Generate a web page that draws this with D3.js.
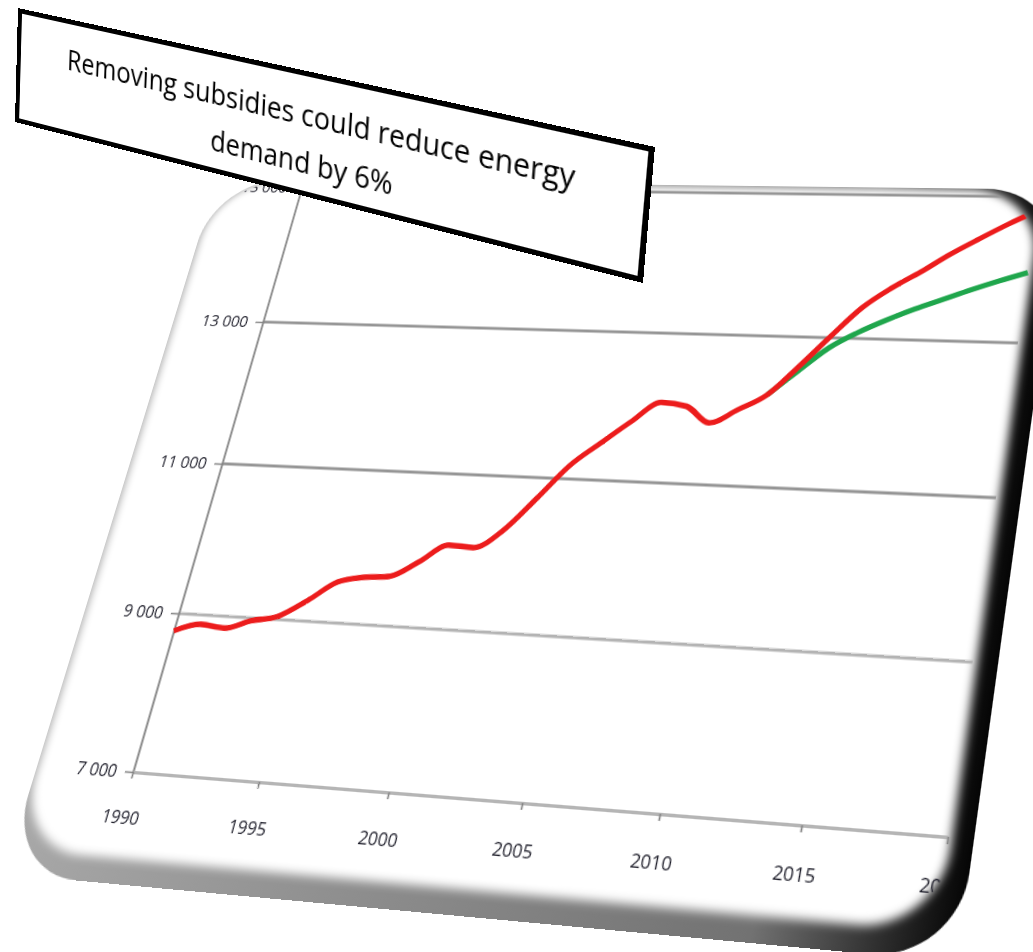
<!DOCTYPE html>
<html lang="en">
<head>
<meta charset="UTF-8">
<title>Removing subsidies could reduce energy demand</title>
<script src="https://cdn.jsdelivr.net/npm/d3@7"></script>
<style>
  body { margin: 0; padding: 0; background: #fff; width: 1033px; height: 952px; overflow: hidden; position: relative; }
  svg { position: absolute; left: 0; top: 0; transform-origin: 0 0; overflow: visible; }
</style>
</head>
<body>
<script>
// data (Mtoe)
const years = [1990, 1991, 1992, 1993, 1994, 1995, 1996, 1997, 1998, 1999, 2000,
  2001, 2002, 2003, 2004, 2005, 2006, 2007, 2008, 2009, 2010,
  2011, 2012, 2013, 2014, 2015, 2016, 2017, 2018, 2019, 2020];
const demandWithSubsidies = [8775, 8880, 8850, 8965, 9040, 9260, 9520, 9600, 9630, 9835, 10070,
  10055, 10300, 10730, 11180, 11490, 11790, 12060, 12020, 11810, 12000,
  12210, 12600, 13020, 13420, 13700, 13930, 14180, 14400, 14610, 14800];
const phaseOutYears = [2011, 2012, 2013, 2014, 2015, 2016, 2017, 2018, 2019, 2020];
const demandNoSubsidies = [12210, 12540, 12860, 13080, 13260, 13420, 13560, 13700, 13830, 13950];
const yTicks = [7000, 9000, 11000, 13000, 15000];
const xTicks = [1990, 1995, 2000, 2005, 2010, 2015, 2020];
const noteLines = ["Removing subsidies could reduce energy", "demand by 6%"];

// flat chart, later bent into the tilted picture
const W = 1000, H = 900;
const m = { left: 130, top: 60 };
const pw = 750, ph = 600;

const x = d3.scaleLinear().domain([1990, 2020]).range([0, pw]);
const y = d3.scaleLinear().domain([7000, 15000]).range([ph, 0]);

function homography(src, dst) {
  const A = [], b = [];
  for (let i = 0; i < 4; i++) {
    const [sx, sy] = src[i], [dx, dy] = dst[i];
    A.push([sx, sy, 1, 0, 0, 0, -sx * dx, -sy * dx]); b.push(dx);
    A.push([0, 0, 0, sx, sy, 1, -sx * dy, -sy * dy]); b.push(dy);
  }
  for (let c = 0; c < 8; c++) {
    let p = c;
    for (let r = c + 1; r < 8; r++) if (Math.abs(A[r][c]) > Math.abs(A[p][c])) p = r;
    [A[c], A[p]] = [A[p], A[c]]; [b[c], b[p]] = [b[p], b[c]];
    for (let r = 0; r < 8; r++) {
      if (r === c) continue;
      const f = A[r][c] / A[c][c];
      for (let k = c; k < 8; k++) A[r][k] -= f * A[c][k];
      b[r] -= f * b[c];
    }
  }
  return b.map((v, i) => v / A[i][i]);
}

function toMatrix3d(h) {
  return `matrix3d(${[h[0], h[3], 0, h[6], h[1], h[4], 0, h[7], 0, 0, 1, 0, h[2], h[5], 0, 1].join(",")})`;
}

// where the plot corners (7000 and 13000 lines) sit on the page
const chartSrc = [
  [m.left + x(1990), m.top + y(7000)],
  [m.left + x(2020), m.top + y(7000)],
  [m.left + x(2020), m.top + y(13000)],
  [m.left + x(1990), m.top + y(13000)]
];
const chartDst = [[133, 772], [948, 837], [1018, 343], [263, 322]];

const svg = d3.select("body").append("svg")
  .attr("width", W)
  .attr("height", H)
  .style("transform", toMatrix3d(homography(chartSrc, chartDst)));

const defs = svg.append("defs");
const rim = defs.append("linearGradient").attr("id", "rim")
  .attr("x1", 0).attr("y1", 0).attr("x2", 1).attr("y2", 0);
rim.append("stop").attr("offset", 0).attr("stop-color", "#a8a8a8");
rim.append("stop").attr("offset", 0.8).attr("stop-color", "#727272");
rim.append("stop").attr("offset", 1).attr("stop-color", "#050505");
defs.append("filter").attr("id", "soft")
  .attr("x", -0.1).attr("y", -0.1).attr("width", 1.2).attr("height", 1.2)
  .append("feGaussianBlur").attr("stdDeviation", 4.5);

// picture card
const card = { x0: -97, y0: -8, x1: pw + 22, y1: ph + 100, r: 72 };
const g = svg.append("g").attr("transform", `translate(${m.left},${m.top})`);

g.append("rect")
  .attr("x", card.x0).attr("y", card.y0)
  .attr("width", card.x1 - card.x0).attr("height", card.y1 - card.y0)
  .attr("rx", card.r)
  .attr("fill", "url(#rim)");
g.append("rect")
  .attr("x", card.x0 + 1.5).attr("y", card.y0 + 1.5)
  .attr("width", card.x1 - card.x0 - 20).attr("height", card.y1 - card.y0 - 24)
  .attr("rx", card.r - 4)
  .attr("fill", "#fff")
  .attr("filter", "url(#soft)");

defs.append("clipPath").attr("id", "inside")
  .append("rect")
  .attr("x", card.x0 + 4).attr("y", card.y0 + 3)
  .attr("width", card.x1 - card.x0 - 22).attr("height", card.y1 - card.y0 - 26)
  .attr("rx", card.r - 6);

const plot = g.append("g").attr("clip-path", "url(#inside)");

// gridlines
plot.append("g")
  .selectAll("line")
  .data(yTicks.slice(1))
  .join("line")
  .attr("x1", 0).attr("x2", x(2020))
  .attr("y1", d => y(d)).attr("y2", d => y(d))
  .attr("stroke", d => d === 9000 ? "#b4b4b4" : "#959595")
  .attr("stroke-width", 2.8);

const fmt = d3.formatLocale({ decimal: ".", thousands: " ", grouping: [3], currency: ["", ""] }).format(",");

const yAxis = plot.append("g")
  .call(d3.axisLeft(y).tickValues(yTicks).tickSize(8).tickSizeOuter(0).tickPadding(8).tickFormat(fmt));
const xAxis = plot.append("g")
  .attr("transform", `translate(0,${ph})`)
  .call(d3.axisBottom(x).tickValues(xTicks).tickSize(6).tickSizeOuter(0).tickPadding(30).tickFormat(d3.format("d")));

[yAxis, xAxis].forEach(a => {
  a.attr("font-family", null).attr("font-size", null);
  a.select(".domain").attr("stroke", "#858585").attr("stroke-width", 2);
  a.selectAll(".tick line").attr("stroke", "#858585").attr("stroke-width", 1.6);
  a.selectAll(".tick text")
    .attr("fill", "#1e1e2a")
    .style("font-family", "'Open Sans', sans-serif")
    .style("font-size", "16px");
});
xAxis.select(".domain").attr("stroke", "#b5b5b5").attr("stroke-width", 3);

const line = d3.line()
  .x(d => x(d[0]))
  .y(d => y(d[1]))
  .curve(d3.curveMonotoneX);

plot.append("path")
  .datum(phaseOutYears.map((yr, i) => [yr, demandNoSubsidies[i]]))
  .attr("d", line)
  .attr("fill", "none")
  .attr("stroke", "#1fa64c")
  .attr("stroke-width", 5.5)
  .attr("stroke-linejoin", "round");

plot.append("path")
  .datum(years.map((yr, i) => [yr, demandWithSubsidies[i]]))
  .attr("d", line)
  .attr("fill", "none")
  .attr("stroke", "#ec1c1c")
  .attr("stroke-width", 5.5)
  .attr("stroke-linejoin", "round");

// annotation box
const boxW = 640, boxH = 120;
const boxSrc = [[0, 0], [boxW, 0], [boxW, boxH], [0, boxH]];
const boxDst = [[18, 8], [655, 147], [643, 283], [15, 122]];

const note = d3.select("body").append("svg")
  .attr("width", boxW)
  .attr("height", boxH)
  .style("transform", toMatrix3d(homography(boxSrc, boxDst)));

note.append("rect")
  .attr("x", 2.5).attr("y", 2.5)
  .attr("width", boxW - 5).attr("height", boxH - 5)
  .attr("fill", "#fff")
  .attr("stroke", "#000")
  .attr("stroke-width", 5);

note.selectAll("text.note")
  .data(noteLines)
  .join("text")
  .attr("class", "note")
  .attr("x", 318)
  .attr("y", (d, i) => 52 + i * 46)
  .attr("text-anchor", "middle")
  .style("font-family", "'Open Sans', sans-serif")
  .style("font-size", "29px")
  .attr("fill", "#000")
  .attr("textLength", (d, i) => i === 0 ? 515 : 187)
  .attr("lengthAdjust", "spacingAndGlyphs")
  .text(d => d);
</script>
</body>
</html>
